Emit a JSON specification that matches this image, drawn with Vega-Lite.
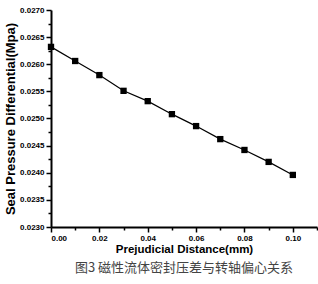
{
  "$schema": "https://vega.github.io/schema/vega-lite/v6.json",
  "width": 266,
  "height": 217,
  "autosize": "none",
  "padding": {"left": 51, "top": 10, "right": 1, "bottom": 57},
  "background": "white",
  "title": {
    "text": "图3 磁性流体密封压差与转轴偏心关系",
    "orient": "bottom",
    "anchor": "middle",
    "font": "Noto Sans CJK SC",
    "fontSize": 13,
    "fontWeight": "normal",
    "color": "#444444",
    "offset": 7
  },
  "config": {
    "view": {"stroke": null},
    "axis": {
      "domainColor": "black",
      "domainWidth": 2,
      "tickColor": "black",
      "tickWidth": 1.5,
      "labelFont": "Liberation Sans",
      "labelFontWeight": "bold",
      "labelFontSize": 8,
      "labelColor": "black",
      "titleFont": "Liberation Sans",
      "titleFontWeight": "bold",
      "titleFontSize": 12,
      "titleColor": "black",
      "grid": false
    }
  },
  "data": {
    "values": [
      {"d": 0.00, "p": 0.02632},
      {"d": 0.01, "p": 0.02606},
      {"d": 0.02, "p": 0.02580},
      {"d": 0.03, "p": 0.02551},
      {"d": 0.04, "p": 0.02532},
      {"d": 0.05, "p": 0.02508},
      {"d": 0.06, "p": 0.02486},
      {"d": 0.07, "p": 0.02462},
      {"d": 0.08, "p": 0.02442},
      {"d": 0.09, "p": 0.02420},
      {"d": 0.10, "p": 0.02396}
    ]
  },
  "resolve": {"axis": {"x": "independent", "y": "independent"}},
  "layer": [
    {
      "mark": {"type": "line", "color": "black", "strokeWidth": 1.2},
      "encoding": {
        "x": {
          "field": "d", "type": "quantitative",
          "scale": {"domain": [0, 0.11], "nice": false, "zero": false},
          "axis": {"orient": "bottom", "values": [0.01, 0.03, 0.05, 0.07, 0.09, 0.11], "labels": false, "tickSize": 3, "title": null, "domain": false}
        },
        "y": {
          "field": "p", "type": "quantitative",
          "scale": {"domain": [0.023, 0.027], "nice": false, "zero": false},
          "axis": {"orient": "left", "values": [0.02325, 0.02375, 0.02425, 0.02475, 0.02525, 0.02575, 0.02625, 0.02675], "labels": false, "tickSize": 3, "title": null, "domain": false}
        }
      }
    },
    {
      "mark": {"type": "point", "shape": "square", "filled": true, "color": "black", "size": 40, "opacity": 1},
      "encoding": {
        "x": {
          "field": "d", "type": "quantitative",
          "scale": {"domain": [0, 0.11], "nice": false, "zero": false},
          "axis": {"orient": "bottom", "values": [0, 0.02, 0.04, 0.06, 0.08, 0.10], "format": ".2f", "tickSize": 5, "labelPadding": 2, "title": "Prejudicial Distance(mm)", "titlePadding": 1, "titleFontSize": 11.5}
        },
        "y": {
          "field": "p", "type": "quantitative",
          "scale": {"domain": [0.023, 0.027], "nice": false, "zero": false},
          "axis": {"orient": "left", "values": [0.023, 0.0235, 0.024, 0.0245, 0.025, 0.0255, 0.026, 0.0265, 0.027], "format": ".4f", "tickSize": 5, "labelPadding": 2, "title": "Seal Pressure Differential(Mpa)", "titleFontSize": 13, "titlePadding": 2}
        }
      }
    }
  ]
}
